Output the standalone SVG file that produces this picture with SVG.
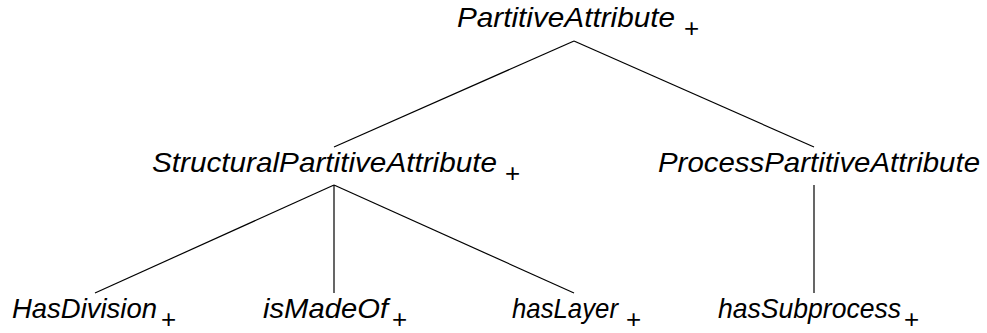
<svg xmlns="http://www.w3.org/2000/svg" width="987" height="333" viewBox="0 0 987 333">
<style>
.t{font-family:"Liberation Sans",Arial,sans-serif;font-style:italic;font-size:28.5px;fill:#000}
.p{font-family:"Liberation Sans",Arial,sans-serif;font-size:26px;fill:#000}
.e{stroke:#000;stroke-width:1.2;fill:none}
</style>
<rect width="987" height="333" fill="#fff"/>
<g id="edges">
<line class="e" x1="574" y1="41" x2="334" y2="147"/>
<line class="e" x1="574" y1="41" x2="814" y2="147"/>
<line class="e" x1="334" y1="185" x2="95" y2="293"/>
<line class="e" x1="334" y1="185" x2="334" y2="293"/>
<line class="e" x1="334" y1="185" x2="574" y2="293"/>
<line class="e" x1="814" y1="185" x2="814" y2="293"/>
</g>
<g id="partitiveAttribute">
<text class="t" x="457" y="27" textLength="218" lengthAdjust="spacingAndGlyphs">PartitiveAttribute</text>
<text class="p" x="684" y="37">+</text>
</g>
<g id="structural">
<text class="t" x="152" y="172" textLength="345" lengthAdjust="spacingAndGlyphs">StructuralPartitiveAttribute</text>
<text class="p" x="505" y="182">+</text>
</g>
<g id="process">
<text class="t" x="658" y="172" textLength="322" lengthAdjust="spacingAndGlyphs">ProcessPartitiveAttribute</text>
</g>
<g id="hasDivision">
<text class="t" x="12" y="318" textLength="145" lengthAdjust="spacingAndGlyphs">HasDivision</text>
<text class="p" x="161" y="328">+</text>
</g>
<g id="isMadeOf">
<text class="t" x="263" y="318" textLength="125" lengthAdjust="spacingAndGlyphs">isMadeOf</text>
<text class="p" x="392" y="328">+</text>
</g>
<g id="hasLayer">
<text class="t" x="512" y="318" textLength="106" lengthAdjust="spacingAndGlyphs">hasLayer</text>
<text class="p" x="626" y="328">+</text>
</g>
<g id="hasSubprocess">
<text class="t" x="718" y="318" textLength="183" lengthAdjust="spacingAndGlyphs">hasSubprocess</text>
<text class="p" x="904" y="328">+</text>
</g>
</svg>
